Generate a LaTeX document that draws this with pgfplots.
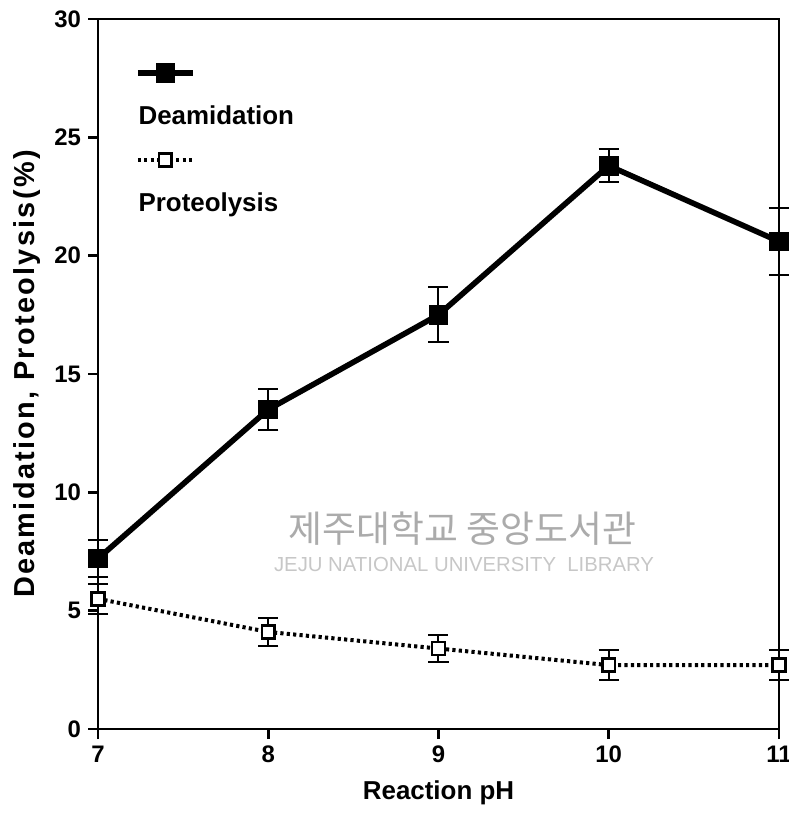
\documentclass[border=0pt]{standalone}
\usepackage{fontspec}
\setmainfont{Liberation Sans}
\newfontfamily\ylfont{Liberation Sans}[LetterSpace=8]
\newfontfamily\krfont{Noto Sans CJK KR}
\usepackage{pgfplots}
\pgfplotsset{compat=1.18}
\begin{document}
\begin{tikzpicture}
\begin{axis}[
  scale only axis, width=340.5bp, height=355bp,
  xmin=7, xmax=11, ymin=0, ymax=30,
  xtick={7,8,9,10,11}, ytick={0,5,10,15,20,25,30},
  tick align=outside, tick pos=left,
  major tick length=5bp,
  axis line style={line width=1.4bp},
  every tick/.style={black, line width=1.4bp},
  /pgf/number format/assume math mode=true,
  tick label style={font=\fontsize{12}{14}\selectfont\bfseries},
  xlabel={Reaction pH},
  ylabel={Deamidation, Proteolysis(\%)},
  xlabel style={font=\fontsize{13}{15}\selectfont\bfseries, yshift=-2bp},
  ylabel style={font=\ylfont\bfseries\fontsize{14.5}{16}\selectfont},
  clip=false,
  legend style={draw=none, fill=none, at={(rel axis cs:0.045,0.94)}, anchor=north west,
    font=\fontsize{13}{15}\selectfont\bfseries, row sep=11bp, cells={anchor=west}},
  legend image code/.code={\draw[#1, mark repeat=2, mark phase=2] plot coordinates {(0bp,0bp) (13.75bp,0bp) (27.5bp,0bp)};},
]
% watermark
\node[text=black!33, font=\krfont\fontsize{18.5}{20}\selectfont] at (axis cs:9.14,8.45) {제주대학교 중앙도서관};
\node[text=black!22, font=\fontsize{11.5}{13}\selectfont] at (axis cs:9.15,6.93) {\resizebox{190bp}{!}{JEJU NATIONAL UNIVERSITY\ \ LIBRARY}};

\addplot[black, line width=2.8bp, mark=square*, mark size=3.5bp,
  error bars/.cd, y dir=both, y explicit,
  error bar style={solid, line width=1bp},
  error mark options={rotate=90, mark size=5bp, line width=1bp}]
  coordinates {
  (7,7.2) +- (0,0.78)
  (8,13.5) +- (0,0.85)
  (9,17.5) +- (0,1.16)
  (10,23.8) +- (0,0.7)
  (11,20.6) +- (0,1.43)
  };
\addlegendentry{\mbox{}}
\addlegendimage{empty legend}
\addlegendentry{\hspace*{-30.5bp}Deamidation}

\addplot[black, line width=2bp, dash pattern=on 1.6bp off 1.6bp, mark=square*, mark size=3.2bp,
  mark options={solid, fill=white, line width=1.3bp},
  error bars/.cd, y dir=both, y explicit,
  error bar style={solid, line width=1bp},
  error mark options={rotate=90, mark size=5bp, line width=1bp}]
  coordinates {
  (7,5.5) +- (0,0.62)
  (8,4.1) +- (0,0.58)
  (9,3.4) +- (0,0.57)
  (10,2.7) +- (0,0.65)
  (11,2.7) +- (0,0.63)
  };
\addlegendentry{\mbox{}}
\addlegendimage{empty legend}
\addlegendentry{\hspace*{-30.5bp}Proteolysis}
\end{axis}
\pgfresetboundingbox
\path ([xshift=-49bp,yshift=-42.5bp]current axis.south west) rectangle ([xshift=5bp,yshift=9.5bp]current axis.north east);
\end{tikzpicture}
\end{document}
